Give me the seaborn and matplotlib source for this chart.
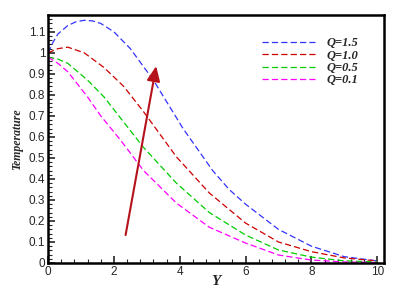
import numpy as np
import pandas as pd
import matplotlib
matplotlib.use("Agg")
import matplotlib.pyplot as plt
from matplotlib.ticker import MultipleLocator
import seaborn as sns

# curve values
x_q15 = [0, 0.15, 0.3, 0.6, 0.85, 1.1, 1.35, 1.6, 2.0, 2.5, 3.2, 4.1, 5.0, 5.5, 6.0, 7.0, 8.0, 9.0, 10.0]
t_q15 = [1.0, 1.05, 1.09, 1.13, 1.148, 1.155, 1.152, 1.14, 1.10, 1.02, 0.87, 0.64, 0.44, 0.35, 0.28, 0.16, 0.08, 0.03, 0.01]

x_q10 = [0, 0.3, 0.6, 1.1, 1.7, 2.3, 2.9, 3.9, 4.9, 6.0, 7.0, 8.0, 9.0, 10.0]
t_q10 = [1.0, 1.02, 1.027, 1.0, 0.93, 0.84, 0.72, 0.505, 0.333, 0.19, 0.10, 0.054, 0.024, 0.01]

x_q05 = [0, 0.3, 0.6, 1.2, 1.7, 2.3, 2.9, 3.9, 4.9, 6.0, 7.0, 8.0, 9.0, 10.0]
t_q05 = [0.98, 0.97, 0.95, 0.87, 0.79, 0.67, 0.55, 0.38, 0.24, 0.133, 0.062, 0.028, 0.01, 0.005]

x_q01 = [0, 0.3, 0.6, 1.2, 1.6, 2.2, 2.9, 3.9, 4.9, 6.0, 7.0, 8.0, 9.0, 10.0]
t_q01 = [0.98, 0.95, 0.91, 0.79, 0.70, 0.585, 0.44, 0.285, 0.17, 0.095, 0.038, 0.014, 0.005, 0.002]

labels = ["Q=1.5", "Q=1.0", "Q=0.5", "Q=0.1"]
colors = ["#3333ff", "#cc0000", "#00cc00", "#ff00ff"]

frames = []
for lab, xs, ts in zip(labels, [x_q15, x_q10, x_q05, x_q01], [t_q15, t_q10, t_q05, t_q01]):
    frames.append(pd.DataFrame({"Y": xs, "temp": ts, "Q": lab}))
df = pd.concat(frames, ignore_index=True)

sns.set_style("white")
plt.rcParams["font.family"] = ["Liberation Sans", "DejaVu Sans"]
fig = plt.figure(figsize=(4.04, 2.89), dpi=100)
ax = fig.add_axes([0.119, 0.090, 0.831, 0.858])

sns.lineplot(data=df, x="Y", y="temp", hue="Q", hue_order=labels,
             palette=colors, ax=ax, lw=0.9, sort=False)
for l in ax.get_lines():
    l.set_dashes([5, 2.5])

ax.annotate("", xy=(3.3, 0.95), xytext=(2.34, 0.12),
            arrowprops=dict(arrowstyle="-|>,head_length=0.9,head_width=0.4",
                            color="#b5121b", lw=1.5))

ax.set_xlim(0, 10.2)
ax.set_ylim(0, 1.18)
ax.xaxis.set_major_locator(MultipleLocator(2))
ax.xaxis.set_minor_locator(MultipleLocator(0.4))
ax.yaxis.set_minor_locator(MultipleLocator(0.02))
ax.set_yticks(np.arange(0, 1.11, 0.1))
ax.set_yticklabels(["0", "0.1", "0.2", "0.3", "0.4", "0.5", "0.6", "0.7", "0.8", "0.9", "1", "1.1"])
ax.tick_params(which="major", direction="in", length=5, width=1.2, labelsize=8.5,
               bottom=True, left=True, top=False, right=False, pad=2)
ax.tick_params(which="minor", direction="in", length=3, width=0.8,
               bottom=True, left=True, top=False, right=False)
for s in ax.spines.values():
    s.set_linewidth(1.8)
    s.set_color("black")

ax.set_xlabel("Y", family="Liberation Serif", style="italic", weight="bold", fontsize=11, labelpad=-2)
ax.set_ylabel("Temperature", family="Liberation Serif", style="italic", weight="bold", fontsize=8.5, labelpad=4)

leg = ax.legend(loc="upper left", bbox_to_anchor=(0.605, 0.955), frameon=False,
                handlelength=4.2, fontsize=9, labelspacing=0.02, handletextpad=0.9)
for h in leg.get_lines():
    h.set_dashes([5, 2.5])
for t in leg.get_texts():
    t.set_family("Liberation Serif")
    t.set_style("italic")
    t.set_weight("bold")

fig.savefig("out.png", dpi=100)
